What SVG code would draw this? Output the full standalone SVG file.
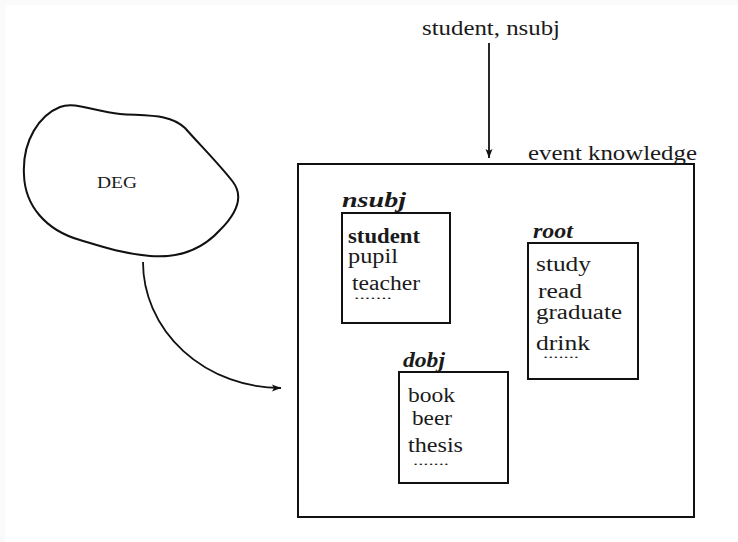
<svg xmlns="http://www.w3.org/2000/svg" width="738" height="542" viewBox="0 0 738 542">
<style>
text{font-family:"Liberation Serif","Times New Roman",serif;fill:#1a1a1a}
.w{font-size:20px}
.d{font-size:13px}
.lbl{font-size:20px;font-weight:bold;font-style:italic}
.box{fill:none;stroke:#111;stroke-width:2}
.con{fill:none;stroke:#111;stroke-width:1.8}
</style>
<defs>
<marker id="ah" markerWidth="10" markerHeight="8" refX="9" refY="4" orient="auto" markerUnits="userSpaceOnUse">
<path d="M0,0.5 L9,4 L0,7.5 L2,4 Z" fill="#111"/>
</marker>
</defs>
<rect width="738" height="542" fill="#fafafa"/>
<rect x="5" y="5" width="733" height="537" fill="#fff"/>
<g id="deg">
<path class="box" d="M24,175 C22,140 40,115 60,107 C75,101 95,112 120,114 C150,116 170,114 185,128 C200,145 220,165 233,182 C245,198 235,215 220,230 C200,252 175,258 150,256 C120,253 100,246 80,240 C45,230 25,205 24,175 Z"/>
<text x="97" y="188" style="font-size:16px" textLength="40" lengthAdjust="spacingAndGlyphs">DEG</text>
</g>
<g id="event-knowledge">
<rect class="box" x="298" y="164" width="396" height="353"/>
<text class="w" x="528" y="160" textLength="169" lengthAdjust="spacingAndGlyphs">event knowledge</text>
</g>
<g id="input">
<text class="w" x="422" y="35" textLength="138" lengthAdjust="spacingAndGlyphs">student, nsubj</text>
</g>
<g id="nsubj">
<text class="lbl" x="342" y="207" textLength="64" lengthAdjust="spacingAndGlyphs">nsubj</text>
<rect class="box" x="342" y="213" width="108" height="110"/>
<text class="w" x="348" y="243" font-weight="bold" textLength="72" lengthAdjust="spacingAndGlyphs">student</text>
<text class="w" x="348" y="263" textLength="50" lengthAdjust="spacingAndGlyphs">pupil</text>
<text class="w" x="352" y="290" textLength="68" lengthAdjust="spacingAndGlyphs">teacher</text>
<text class="d" x="354" y="299" textLength="38" lengthAdjust="spacingAndGlyphs">.......</text>
</g>
<g id="root">
<text class="lbl" x="533" y="238" textLength="40" lengthAdjust="spacingAndGlyphs">root</text>
<rect class="box" x="528" y="243" width="110" height="136"/>
<text class="w" x="536" y="271" textLength="55" lengthAdjust="spacingAndGlyphs">study</text>
<text class="w" x="538" y="298" textLength="44" lengthAdjust="spacingAndGlyphs">read</text>
<text class="w" x="536" y="319" textLength="86" lengthAdjust="spacingAndGlyphs">graduate</text>
<text class="w" x="536" y="350" textLength="54" lengthAdjust="spacingAndGlyphs">drink</text>
<text class="d" x="543" y="358" textLength="36" lengthAdjust="spacingAndGlyphs">.......</text>
</g>
<g id="dobj">
<text class="lbl" x="403" y="367" textLength="42" lengthAdjust="spacingAndGlyphs">dobj</text>
<rect class="box" x="399" y="372" width="109" height="111"/>
<text class="w" x="408" y="402" textLength="47" lengthAdjust="spacingAndGlyphs">book</text>
<text class="w" x="412" y="425" textLength="40" lengthAdjust="spacingAndGlyphs">beer</text>
<text class="w" x="408" y="452" textLength="55" lengthAdjust="spacingAndGlyphs">thesis</text>
<text class="d" x="413" y="465" textLength="36" lengthAdjust="spacingAndGlyphs">.......</text>
</g>
<g id="connectors">
<path class="con" d="M489,43 L489,158" marker-end="url(#ah)"/>
<path class="con" d="M143,262 A138,126 0 0 0 281,388" marker-end="url(#ah)"/>
</g>
</svg>
